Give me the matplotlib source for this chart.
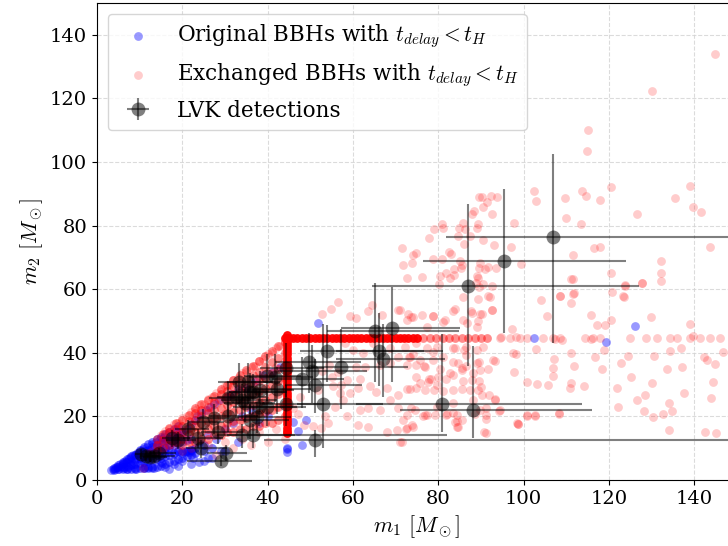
import numpy as np
import matplotlib.pyplot as plt

plt.rcParams['font.family'] = 'DejaVu Serif'
plt.rcParams['mathtext.fontset'] = 'cm'

# original BBHs (blue), scattered
blue_m1 = [3.3, 3.8, 4.3, 4.8, 5.2, 5.6, 6.0, 6.3, 6.8, 7.2, 7.6, 8.0, 8.4, 8.8, 9.2, 9.6, 10.0, 10.4,
           10.8, 11.3, 11.8, 12.3, 12.8, 13.3, 13.8, 14.3, 14.8, 15.3, 15.8, 4.5, 5.5, 6.5, 7.5, 8.5,
           9.5, 10.5, 11.5, 12.5, 13.5, 14.5, 15.5, 16.5, 17.5, 18.5, 9.0, 10.0, 11.0, 12.0, 13.0,
           14.0, 15.0, 16.0, 17.0, 18.0, 19.0, 20.0, 21.0, 22.0, 23.0, 16.0, 17.0, 18.0, 19.0, 20.0,
           21.0, 22.0, 21.6, 22.2, 20.8, 23.5, 24.5, 25.5, 26.5, 27.5, 28.5, 24.0, 26.0, 28.0, 30.0,
           32.0, 34.0, 36.0, 30.5, 31.5, 33.0, 35.0, 37.0, 39.0, 41.0, 43.0, 26.0, 29.0, 33.0, 24.0,
           19.0, 12.0, 15.0, 38.0, 40.0, 44.5, 44.5, 44.6, 46.0, 47.2, 49.0, 48.0, 51.7, 102.5,
           119.4, 126.1, 7.0, 9.0, 11.0, 13.0, 16.0, 18.0, 20.0, 22.0, 25.0, 27.0, 30.0, 22.5, 17.0]
blue_m2 = [3.1, 3.3, 3.6, 4.0, 3.4, 4.5, 5.3, 3.8, 5.8, 4.2, 6.5, 7.2, 5.0, 7.8, 3.6, 8.5, 9.2, 6.2,
           9.8, 4.0, 10.5, 7.0, 11.2, 3.8, 12.0, 8.0, 12.8, 5.2, 13.5, 4.1, 5.0, 6.0, 7.0, 7.8,
           8.5, 8.0, 9.2, 9.5, 10.4, 10.8, 11.5, 12.5, 14.0, 15.5, 6.0, 7.2, 7.5, 8.4, 8.0,
           9.0, 9.5, 10.0, 11.0, 12.0, 13.0, 14.5, 16.0, 17.5, 19.0, 8.5, 9.0, 8.2, 9.2, 8.6,
           8.9, 9.5, 8.9, 9.2, 9.0, 20.0, 21.0, 22.0, 23.0, 24.0, 25.0, 12.0, 14.0, 13.0, 16.0,
           18.0, 20.0, 22.0, 26.0, 27.0, 28.5, 29.0, 31.0, 33.0, 34.0, 35.5, 7.0, 9.0, 12.0, 5.5,
           4.5, 4.2, 5.5, 18.0, 20.0, 10.0, 8.7, 9.7, 18.3, 15.5, 18.9, 11.0, 49.5, 44.5,
           43.3, 48.5, 3.3, 3.5, 3.7, 3.9, 4.0, 5.0, 6.0, 5.0, 6.0, 7.0, 9.0, 7.0, 3.5]

# original BBHs, dense low-mass cloud
blue_dense_m1 = [4, 4, 5, 5, 5, 6, 6, 6, 6, 7, 7, 7, 7, 8, 8, 8, 8, 9, 9, 9, 9,
                 10, 10, 10, 10, 10, 11, 11, 11, 11, 11, 12, 12, 12, 12, 12, 13, 13, 13, 13, 13,
                 14, 14, 14, 14, 14, 15, 15, 15, 15, 15, 16, 16, 16, 16, 16, 17, 17, 17, 17, 17,
                 18, 18, 18, 18, 18, 19, 19, 19, 19, 19, 20, 20, 20, 20, 21, 21, 21, 22, 22, 22,
                 23, 23, 25, 25, 27]
blue_dense_m2 = [3.2, 3.8, 3.3, 4.0, 4.6, 3.4, 4.2, 5.0, 5.7, 3.5, 4.5, 5.5, 6.6, 3.6, 4.8, 6.0, 7.4,
                 3.7, 5.0, 6.5, 8.0, 3.8, 5.3, 7.0, 8.5, 9.5, 3.8, 5.5, 7.5, 9.0, 10.5, 3.9, 6.0,
                 8.0, 9.5, 11.2, 4.0, 6.2, 8.5, 10.3, 12.0, 4.2, 6.5, 9.0, 11.0, 12.8, 4.5, 7.0,
                 9.5, 11.8, 13.5, 5.0, 7.5, 10.0, 12.5, 14.5, 5.5, 8.0, 10.5, 13.0, 15.0, 6.0,
                 8.5, 11.0, 13.5, 16.0, 6.5, 9.0, 11.5, 14.0, 17.0, 7.0, 9.0, 12.0, 15.0, 7.5,
                 9.0, 12.5, 8.0, 9.5, 13.0, 8.5, 10.0, 9.0, 11.0, 10.0]

# exchanged BBHs (red), scattered
red_m1 = [10.7, 13.0, 14.0, 16.0, 18.0, 20.0, 22.0, 12.0, 15.0, 16.0, 17.0, 18.0, 19.0, 20.0, 21.0,
          22.0, 23.0, 24.0, 25.0, 26.0, 27.0, 28.0, 29.0, 30.0, 31.0, 32.0, 33.0, 34.0, 35.0, 36.0,
          37.0, 38.0, 39.0, 40.0, 41.0, 42.0, 43.0, 44.0, 18.0, 20.0, 22.0, 24.0, 26.0, 28.0, 30.0,
          32.0, 34.0, 36.0, 38.0, 40.0, 42.0, 44.0, 20.0, 22.0, 24.0, 26.0, 28.0, 30.0, 32.0, 34.0,
          36.0, 38.0, 40.0, 42.0, 44.0, 24.0, 26.0, 28.0, 30.0, 32.0, 34.0, 36.0, 38.0, 40.0, 42.0,
          44.0, 26.0, 30.0, 34.0, 38.0, 42.0, 44.0, 28.0, 32.0, 36.0, 40.0,
          56.6, 54.8, 52.8, 64.4, 63.6, 59.3, 60.7, 66.9, 70.6, 73.0, 74.0, 78.8, 83.9, 87.8, 89.8,
          92.5, 81.2, 86.7, 94.8, 98.3, 97.6, 89.6, 89.8, 87.8, 85.5, 83.5, 81.9, 79.6, 77.7, 75.7,
          74.8, 78.4, 80.0, 76.9, 74.9, 73.3, 72.6, 70.6, 68.7, 66.3, 62.8, 60.8, 61.6, 63.9, 65.5,
          67.9, 70.6, 72.6, 68.7, 70.6, 66.3, 63.6, 61.6, 57.7, 55.8, 53.4, 58.5, 61.2, 63.6, 67.9,
          70.3, 72.6, 73.8, 76.9, 81.9, 83.5, 84.3, 85.5, 89.8, 91.3, 91.1, 93.3, 98.4, 71.4, 52.6,
          54.2, 50.7, 48.5, 47.2, 46.0, 47.6, 51.9, 56.9, 59.3, 55.4, 57.3, 61.2, 55.0, 56.6, 58.5,
          52.7, 54.3, 58.1, 60.0, 62.3, 64.7, 68.7, 72.2, 74.9, 77.3, 79.6, 83.5, 86.1, 90.5, 92.9,
          83.5,
          89.5, 90.3, 92.3, 93.7, 91.5, 90.5, 88.4, 87.8, 92.7, 97.8, 80.8, 79.0, 81.2, 77.9, 85.9,
          89.4, 89.0, 84.8, 86.3, 84.6, 87.4, 90.5, 86.0, 93.0, 97.1, 82.6, 78.8, 74.1, 71.6, 74.9,
          80.9, 83.1, 85.1, 85.3, 83.7, 85.5, 89.8, 91.7, 89.5, 93.5, 91.0, 99.4, 89.0, 82.7, 83.8,
          80.5, 81.9, 76.1, 73.8, 72.7, 71.8, 80.2, 89.2, 88.8, 90.5, 92.7, 89.6, 91.7, 92.1, 89.2,
          85.9, 87.6, 90.3, 89.3, 89.1, 92.7, 85.9, 83.5, 81.6, 78.8, 76.3, 73.7, 71.0, 77.3, 72.6,
          97.4, 104.2, 105.5, 108.5, 111.6, 111.2, 111.6, 115.8, 117.3, 119.0, 120.6, 123.6, 123.7,
          127.7, 129.8, 138.9, 139.7,
          102.5, 103.0, 109.7, 113.7, 114.7, 118.0, 120.5, 109.9, 113.4, 126.6, 135.5, 139.0, 139.8,
          141.7, 116.5, 117.9, 111.6, 143.7, 132.2, 120.5, 132.1, 132.1, 123.7, 127.7, 111.2, 111.8,
          108.5, 120.8, 123.4, 115.0, 114.8, 130.0, 144.9, 103.0, 107.1, 111.1, 111.8, 116.8, 100.9,
          103.2, 105.8, 106.8, 107.0, 111.1, 110.8, 114.1, 97.8, 98.2, 93.2, 91.7, 89.6, 90.0, 93.2,
          94.2, 91.2, 90.7, 98.6, 100.9, 102.6, 108.3, 84.7, 84.5, 74.0, 72.4, 71.0, 74.5, 77.3,
          79.2, 83.5, 85.9, 87.4, 89.2, 85.6, 83.5, 81.2, 79.0, 76.9, 73.4, 74.7, 77.9, 80.4, 82.7,
          85.5, 86.6, 89.1, 88.2, 90.3, 88.2, 92.0, 88.6, 91.2, 83.9, 84.3, 82.0, 79.6, 76.5, 72.6,
          73.7, 71.8, 81.0, 78.8, 76.6, 75.7, 73.2, 74.1, 78.8, 84.7, 86.6, 83.9, 89.0, 86.6,
          118.4, 118.9, 124.4, 122.9, 125.2, 130.5, 134.3, 137.0, 133.7, 137.2, 142.2, 143.0, 144.9,
          146.8, 122.0, 130.2, 137.5, 144.4, 144.0, 126.6, 128.4, 122.2, 128.3, 130.3, 132.6, 134.1,
          134.9, 134.1, 142.6, 145.1, 100.9, 102.6, 108.4, 98.7, 94.4,
          94.4, 96.8, 99.1, 100.7, 104.6, 106.9, 108.5, 114.4, 116.3, 117.9, 124.9, 128.8, 131.2,
          134.3, 135.9, 139.0, 141.3, 143.7, 146.0, 107.3, 108.9, 115.9]
red_m2 = [3.7, 9.0, 11.0, 12.0, 11.0, 9.0, 10.0, 8.5, 14.0, 15.5, 16.0, 17.5, 18.0, 19.5, 20.0,
          21.5, 22.0, 23.5, 24.0, 25.5, 26.0, 27.5, 28.0, 29.5, 30.0, 31.5, 32.0, 33.5, 34.0, 35.5,
          36.0, 37.5, 38.0, 39.5, 40.0, 41.5, 42.0, 43.5, 15.0, 17.0, 18.5, 20.5, 22.0, 24.0, 25.5,
          27.0, 29.0, 30.5, 32.0, 34.0, 35.5, 37.5, 14.0, 15.5, 17.0, 18.0, 19.5, 21.0, 22.5, 24.0,
          25.0, 26.5, 28.0, 29.5, 31.0, 13.0, 14.5, 15.5, 16.5, 17.5, 19.0, 20.0, 21.0, 22.0, 23.0,
          24.0, 11.0, 12.0, 13.0, 15.0, 16.0, 13.0, 8.0, 10.0, 11.0, 12.0,
          56.1, 53.7, 52.2, 55.1, 53.0, 51.6, 50.9, 51.9, 53.3, 52.2, 51.2, 51.6, 53.7, 52.4, 52.2,
          53.5, 49.8, 49.5, 44.9, 44.9, 39.8, 37.2, 34.6, 31.4, 34.6, 33.0, 31.9, 29.9, 30.9, 30.4,
          28.8, 31.9, 32.5, 35.6, 36.1, 38.8, 36.1, 38.8, 36.7, 36.1, 35.6, 35.6, 31.9, 29.4, 27.8,
          28.8, 26.7, 28.5, 25.2, 22.6, 22.0, 22.6, 22.0, 25.2, 23.1, 20.0, 20.0, 17.3, 16.8, 15.2,
          15.7, 16.2, 17.3, 20.5, 20.5, 21.0, 16.8, 18.9, 22.0, 20.5, 14.9, 25.2, 17.8, 12.0, 16.3,
          17.8, 17.0, 17.2, 20.9, 22.5, 26.2, 28.3, 27.3, 27.3, 29.4, 29.9, 28.8, 32.5, 34.1, 31.4,
          34.4, 36.2, 43.0, 40.9, 39.8, 43.0, 41.4, 41.9, 43.2, 41.4, 41.9, 41.4, 40.9, 41.9, 37.7,
          37.2,
          89.1, 89.1, 89.4, 89.1, 87.5, 85.9, 84.7, 83.5, 83.6, 80.9, 80.5, 78.8, 79.4, 76.0, 80.9,
          80.5, 79.4, 79.4, 78.9, 76.8, 76.8, 75.5, 74.1, 73.8, 73.4, 71.8, 69.5, 70.8, 72.9, 71.3,
          69.4, 71.1, 69.0, 66.6, 66.4, 67.6, 68.1, 66.9, 66.7, 66.7, 66.3, 67.9, 64.3, 63.4, 64.6,
          64.3, 65.2, 63.7, 68.2, 63.5, 67.7, 61.6, 63.4, 61.9, 61.6, 61.1, 60.6, 58.0, 57.4, 56.8,
          57.6, 53.0, 52.1, 50.1, 48.0, 53.5, 50.3, 53.2, 50.3, 51.5, 52.0, 51.4, 53.5, 48.0, 50.3,
          47.6, 56.6, 51.6, 58.0, 58.5, 55.8, 63.2, 51.8, 48.7, 48.7, 50.3, 57.4, 61.0,
          61.9, 51.4, 49.1, 45.4,
          91.0, 87.7, 88.8, 91.0, 89.2, 88.0, 92.0, 82.4, 80.6, 83.7, 88.6, 92.6, 85.7,
          84.2, 73.0, 73.2, 70.9, 73.2, 69.0, 65.2, 65.1, 62.6, 61.2, 61.8, 63.1, 58.7,
          58.0, 59.1, 57.9, 110.0, 103.6, 122.2, 134.0, 41.1, 38.0, 39.8, 35.7, 38.6, 30.9,
          30.2, 29.8, 32.7, 35.1, 30.4, 28.8, 29.6, 34.1, 39.6, 37.5, 35.0, 31.1, 29.2, 25.5,
          21.7, 19.2, 15.0, 17.6, 20.2, 20.2, 20.9, 16.8, 18.7, 16.8, 16.1, 12.1, 22.0, 20.4,
          20.4, 24.1, 31.0, 28.3, 28.3, 28.5, 28.3, 28.1, 28.3, 28.3, 28.5, 32.3, 31.8, 35.0, 33.5,
          35.1, 35.7, 36.9, 33.7, 26.7, 25.1, 26.7, 20.8, 22.6, 18.3, 20.4, 20.9, 23.0, 20.1, 20.4,
          22.5, 18.9, 38.8, 37.8, 35.9, 37.8, 38.8, 39.5, 40.4, 36.7, 39.3, 41.4, 40.9, 41.9,
          34.8, 40.9, 39.0, 36.9, 32.4, 39.0, 40.7, 41.4, 35.0, 35.5, 38.6, 37.6, 36.6,
          40.1, 28.8, 30.4, 27.3, 30.9, 25.9, 25.1, 26.8, 22.9, 21.7, 19.9, 20.6, 24.1,
          21.7, 15.6, 15.2, 14.7, 20.3, 20.3, 21.0, 17.7, 22.0,
          44.5, 44.5, 44.5, 44.5, 44.5, 44.5, 44.5, 44.5, 44.5, 44.5, 44.5, 44.5, 44.5,
          44.5, 44.5, 44.5, 44.5, 44.5, 44.5, 44.2, 44.0, 44.2]

# exchanged BBHs, dense cloud below the diagonal
red_dense_m1 = [14, 14, 14, 15.5, 15.5, 15.5, 17, 17, 17, 17, 18.5, 18.5, 18.5, 18.5,
                20, 20, 20, 20, 20, 21.5, 21.5, 21.5, 21.5, 21.5, 23, 23, 23, 23, 23, 23,
                24.5, 24.5, 24.5, 24.5, 24.5, 24.5, 26, 26, 26, 26, 26, 26,
                27.5, 27.5, 27.5, 27.5, 27.5, 27.5, 29, 29, 29, 29, 29, 29, 29,
                30.5, 30.5, 30.5, 30.5, 30.5, 30.5, 30.5, 32, 32, 32, 32, 32, 32, 32,
                33.5, 33.5, 33.5, 33.5, 33.5, 33.5, 33.5, 35, 35, 35, 35, 35, 35, 35,
                36.5, 36.5, 36.5, 36.5, 36.5, 36.5, 36.5, 38, 38, 38, 38, 38, 38, 38,
                39.5, 39.5, 39.5, 39.5, 39.5, 39.5, 39.5, 41, 41, 41, 41, 41, 41, 41,
                42.5, 42.5, 42.5, 42.5, 42.5, 42.5, 42.5, 44, 44, 44, 44, 44, 44, 44]
red_dense_m2 = [9, 11, 13, 10, 12.5, 14.5, 11, 13, 15, 16.5, 12, 14, 16, 18,
                11, 13, 15, 17, 19, 12, 14.5, 16.5, 18.5, 20.5, 12, 15, 17, 19, 21, 22.5,
                13, 15.5, 18, 20, 22, 24, 13, 16, 18.5, 21, 23, 25,
                14, 17, 19.5, 22, 24.5, 26.5, 14, 17, 20, 22.5, 25, 27, 28.5,
                15, 18, 21, 23.5, 26, 28, 30, 15, 18.5, 21.5, 24.5, 27, 29.5, 31.5,
                16, 19, 22, 25, 28, 30.5, 33, 16, 19.5, 23, 26, 29, 31.5, 34.5,
                17, 20, 23.5, 27, 30, 33, 36, 17, 21, 24.5, 28, 31, 34, 37.5,
                18, 21.5, 25, 29, 32, 35.5, 39, 18, 22, 26, 30, 33.5, 37, 40.5,
                19, 23, 27, 31, 35, 38.5, 42, 20, 24, 28, 32, 36, 40, 43.5]

# pile-up of exchanged BBHs at the mass cap (m2 = 44.5) and at m1 = 44.5
cap_m1 = [44.0, 45.0, 46.0, 47.0, 48.0, 49.0, 50.0, 51.0, 52.0, 53.0, 54.0, 55.0, 56.0, 57.0, 58.0,
          59.0, 60.0, 61.0, 62.0, 63.0, 64.0, 65.0, 66.0, 67.0, 68.0, 69.0, 70.0, 71.0, 72.0, 73.0,
          74.0, 75.0]
cap_m2 = [45.5, 44.5, 43.5, 42.5, 41.5, 40.5, 39.5, 38.5, 37.5, 36.5, 35.5, 34.5, 33.5, 32.5, 31.5,
          30.5, 29.5, 28.5, 27.5, 26.5, 25.5, 24.5, 23.5, 22.5, 21.5, 20.5, 19.5, 18.5, 17.5, 16.5,
          15.5, 14.7]
cap_tail_m1 = [76.5, 78.0, 79.5, 81.0, 82.5, 84.0, 85.5, 87.0, 88.5, 90.0, 91.5]

# LVK detections: m1, -err, +err, m2, -err, +err
lvk_m1 = [106.9, 95.3, 87.0, 80.8, 88.1, 51.1, 53.0, 53.9, 57.1, 65.2, 69.1, 66.1, 67.1, 49.8,
          50.4, 48.0, 51.1, 44.2, 41.7, 42.1, 44.2, 39.9, 35.5, 38.2, 35.9, 34.7, 30.8, 32.6, 39.9,
          37.4, 30.8, 27.4, 24.8, 35.9, 11.5, 13.4, 10.3, 12.5, 21.3, 17.7, 24.4, 29.1, 30.2, 28.3,
          19.1, 34.1, 36.5, 23.6, 34.1, 38.0, 36.5, 33.3, 14.5]
lvk_m1_lo = [25.0, 18.8, 22.6, 20.0, 17.0, 12.0, 6.0, 6.3, 7.0, 11.3, 12.0, 10.0, 11.0, 8.0,
             8.0, 7.0, 7.0, 6.0, 6.0, 5.5, 6.0, 5.5, 5.0, 5.5, 5.0, 5.0, 4.5, 4.5, 6.0,
             5.0, 4.5, 4.0, 3.5, 5.0, 1.5, 2.0, 1.5, 1.8, 3.0, 2.5, 3.5, 8.0, 4.5, 4.0,
             3.0, 6.0, 6.0, 3.5, 5.0, 6.0, 5.5, 5.0, 2.0]
lvk_m1_hi = [55.0, 28.7, 40.0, 33.0, 28.0, 100.0, 14.0, 22.7, 15.8, 19.6, 16.0, 15.0, 14.5, 12.0,
             13.0, 10.0, 11.0, 9.0, 9.0, 8.0, 9.0, 8.0, 7.5, 8.0, 8.5, 7.0, 7.0, 7.0, 9.0,
             8.0, 7.0, 6.0, 5.0, 9.0, 3.0, 5.0, 2.5, 4.0, 5.0, 4.0, 6.0, 7.2, 5.0, 6.0,
             4.0, 48.0, 10.0, 6.0, 8.0, 9.0, 8.0, 8.0, 4.0]
lvk_m2 = [76.4, 68.9, 61.0, 24.0, 22.1, 12.6, 24.0, 40.7, 35.4, 46.9, 47.7, 40.6, 38.2, 37.2,
          34.3, 31.7, 30.0, 35.2, 32.5, 28.6, 23.9, 32.7, 30.9, 28.3, 27.8, 24.3, 25.7, 26.2, 22.9,
          19.9, 20.0, 19.4, 18.3, 18.9, 7.5, 7.6, 8.2, 7.2, 15.9, 13.3, 10.0, 5.9, 8.4, 15.2,
          12.6, 14.2, 14.2, 13.1, 25.2, 23.1, 27.8, 30.9, 8.5]
lvk_m2_lo = [33.3, 22.7, 25.0, 9.0, 9.0, 5.5, 14.0, 10.0, 13.0, 16.0, 17.0, 11.0, 12.0, 10.0,
             10.0, 9.0, 9.0, 9.0, 8.0, 8.0, 7.0, 8.0, 7.0, 7.0, 7.0, 6.0, 6.0, 6.0, 6.0,
             5.0, 5.0, 5.0, 4.5, 6.0, 1.5, 1.8, 1.5, 1.5, 3.5, 3.0, 3.0, 1.5, 2.5, 4.0,
             3.0, 4.0, 4.0, 3.0, 6.0, 6.0, 7.0, 7.0, 2.0]
lvk_m2_hi = [26.0, 22.5, 25.8, 22.0, 20.0, 3.0, 25.0, 8.0, 12.0, 15.0, 13.0, 12.0, 11.0, 9.0,
             8.0, 7.0, 8.0, 8.0, 7.0, 7.0, 6.0, 7.0, 6.0, 6.0, 6.0, 5.0, 5.0, 5.0, 5.0,
             4.5, 4.5, 4.5, 4.0, 5.0, 1.5, 1.5, 1.5, 1.5, 3.0, 2.5, 2.5, 1.5, 2.5, 3.0,
             2.5, 3.5, 3.5, 3.0, 5.0, 5.0, 5.5, 6.0, 1.5]

fig = plt.figure(figsize=(7.28, 5.46), dpi=100)
ax = fig.add_axes([0.1332, 0.1209, 0.879, 0.8736])

pt = 40
ax.scatter(blue_m1, blue_m2, s=pt, color='blue', alpha=0.4, linewidths=0, zorder=2,
           label=r'Original BBHs with $t_{delay} < t_H$')
ax.scatter(blue_dense_m1, blue_dense_m2, s=pt, color='blue', alpha=0.5, linewidths=0, zorder=2)
ax.scatter(red_m1, red_m2, s=pt, color='red', alpha=0.2, linewidths=0, zorder=3,
           label=r'Exchanged BBHs with $t_{delay} < t_H$')
ax.scatter(red_dense_m1, red_dense_m2, s=pt, color='red', alpha=0.45, linewidths=0, zorder=3)
ax.scatter(cap_m1, [44.5] * len(cap_m1), s=pt, color='red', alpha=0.95, linewidths=0, zorder=3)
ax.scatter([44.5] * len(cap_m2), cap_m2, s=pt, color='red', alpha=0.95, linewidths=0, zorder=3)
ax.scatter(cap_tail_m1, [44.5] * len(cap_tail_m1), s=pt, color='red', alpha=0.45,
           linewidths=0, zorder=3)

ax.errorbar(lvk_m1, lvk_m2, xerr=[lvk_m1_lo, lvk_m1_hi], yerr=[lvk_m2_lo, lvk_m2_hi],
            fmt='o', color='black', ms=10, alpha=0.5, elinewidth=1.5, mec='none', zorder=4,
            label='LVK detections')

ax.set_xlim(0, 150)
ax.set_ylim(0, 150)
ax.set_xticks([0, 20, 40, 60, 80, 100, 120, 140])
ax.set_yticks([0, 20, 40, 60, 80, 100, 120, 140])
ax.tick_params(labelsize=14)
ax.set_xlabel(r'$m_1\ [M_\odot]$', fontsize=16)
ax.set_ylabel(r'$m_2\ [M_\odot]$', fontsize=16)
ax.grid(True, linestyle='--', color='lightgray', alpha=0.8)
ax.set_axisbelow(True)
ax.legend(loc='upper left', fontsize=15.5)

fig.savefig('out.png', dpi=100)
